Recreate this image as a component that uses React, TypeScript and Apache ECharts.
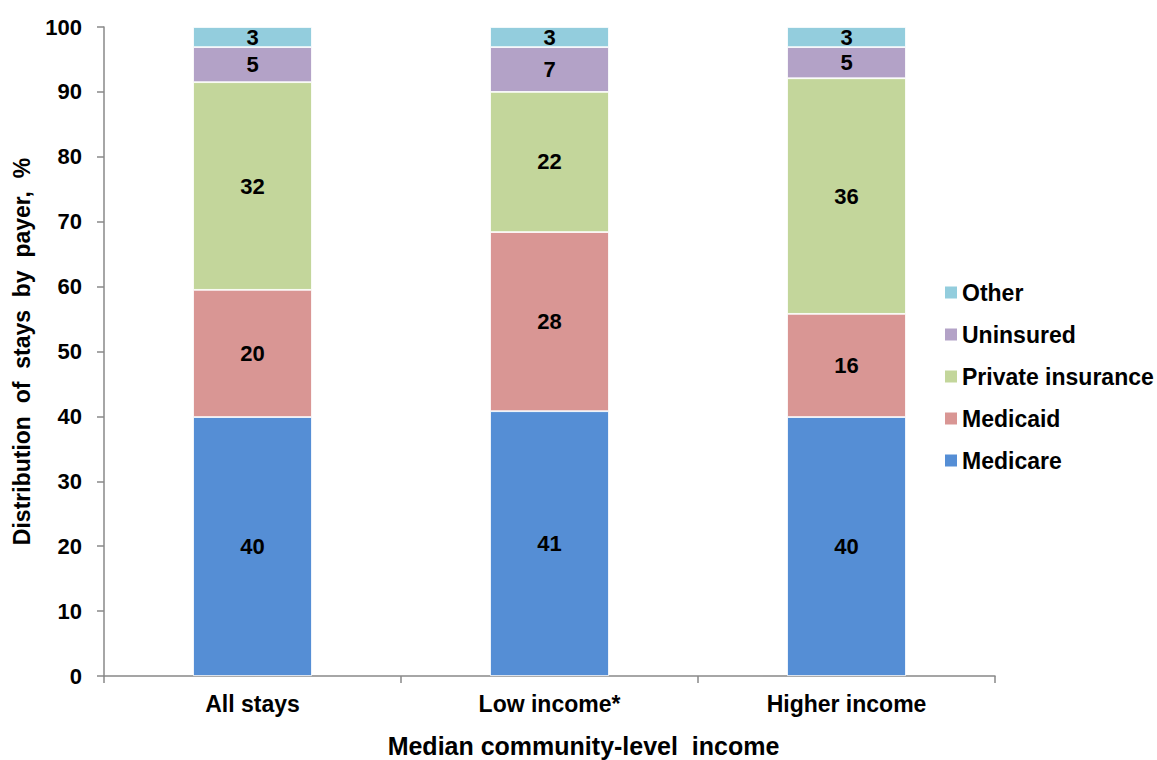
import React, { useEffect, useRef } from "react";
import * as echarts from "echarts";

const categories = ["All stays", "Low income*", "Higher income"];
const medicare = [39.9, 40.8, 39.9];
const medicaid = [19.6, 27.6, 15.9];
const privateIns = [32.0, 21.6, 36.3];
const uninsured = [5.4, 6.9, 4.8];
const other = [3.1, 3.1, 3.1];
const seriesNames = ["Medicare", "Medicaid", "Private insurance", "Uninsured", "Other"];
const seriesColors = ["#558ED5", "#D99694", "#C3D69B", "#B3A2C7", "#93CDDD"];
const yTicks = { min: 0, max: 100, interval: 10 };

const FONT = "'Liberation Sans', Arial, sans-serif";

export default function App() {
  const ref = useRef<HTMLDivElement>(null);
  useEffect(() => {
    if (!ref.current) return;
    const chart = echarts.init(ref.current, null, { renderer: "svg" });
    const dataSets = [medicare, medicaid, privateIns, uninsured, other];
    chart.setOption({
      animation: false,
      textStyle: { fontFamily: FONT },
      grid: { left: 104, right: 162, top: 27, bottom: 84, containLabel: false, outerBoundsMode: "none" },
      legend: {
        orient: "vertical",
        left: 938,
        top: 276,
        icon: "rect",
        itemWidth: 14,
        itemHeight: 14,
        itemGap: 19,
        data: ["Other", "Uninsured", "Private insurance", "Medicaid", "Medicare"],
        textStyle: { fontFamily: FONT, fontSize: 23, fontWeight: "bold", color: "#000", lineHeight: 23, padding: [0, 0, 0, -1] },
      },
      xAxis: {
        type: "category",
        data: categories,
        name: "Median community-level  income",
        nameLocation: "middle",
        nameGap: 57,
        nameTextStyle: { fontFamily: FONT, fontSize: 25, fontWeight: "bold", color: "#000", padding: [0, 0, 0, 68] },
        axisLine: { lineStyle: { color: "#888", width: 1.5 } },
        axisTick: { show: true, length: 7, lineStyle: { color: "#888", width: 1.5 } },
        axisLabel: { fontFamily: FONT, fontSize: 23, fontWeight: "bold", color: "#000", margin: 16 },
      },
      yAxis: {
        type: "value",
        min: yTicks.min,
        max: yTicks.max,
        interval: yTicks.interval,
        name: "Distribution  of  stays  by  payer,  %",
        nameLocation: "middle",
        nameGap: 71,
        nameTextStyle: { fontFamily: FONT, fontSize: 23, fontWeight: "bold", color: "#000" },
        axisLine: { show: true, lineStyle: { color: "#888", width: 1.5 } },
        axisTick: { show: true, length: 7, lineStyle: { color: "#888", width: 1.5 } },
        axisLabel: { fontFamily: FONT, fontSize: 22, fontWeight: "bold", color: "#000", margin: 22 },
        splitLine: { show: false },
      },
      series: seriesNames.map((name, i) => ({
        name,
        type: "bar",
        stack: "total",
        barWidth: "40%",
        data: dataSets[i],
        itemStyle: { color: seriesColors[i], borderColor: "#fff", borderWidth: 0.8 },
        label: {
          show: true,
          position: "inside",
          formatter: (p: any) => String(Math.round(p.value)),
          fontFamily: FONT,
          fontSize: 22,
          fontWeight: "bold",
          color: "#000",
        },
      })),
    });
    return () => chart.dispose();
  }, []);
  return (
    <div
      ref={ref}
      style={{ position: "fixed", left: 0, top: 0, width: 1157, height: 760, background: "#fff" }}
    />
  );
}
